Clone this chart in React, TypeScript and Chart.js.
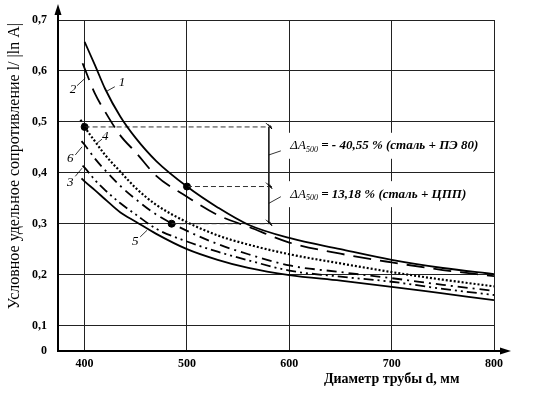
import React, { useEffect, useRef } from "react";
import { Chart, registerables } from "chart.js";

Chart.register(...registerables);

// ---- data ----
const D = [400, 410, 420, 435, 450, 470, 500, 530, 560, 600, 650, 700, 750, 800];
const curve1 = [0.657, 0.612, 0.565, 0.51, 0.468, 0.423, 0.373, 0.332, 0.298, 0.272, 0.25, 0.229, 0.213, 0.201];
const curve2 = [0.605, 0.556, 0.52, 0.473, 0.44, 0.394, 0.353, 0.317, 0.294, 0.263, 0.241, 0.224, 0.209, 0.197];
const curve3 = [0.41, 0.386, 0.366, 0.34, 0.318, 0.29, 0.265, 0.245, 0.228, 0.208, 0.196, 0.186, 0.172, 0.16];
const curve4 = [0.49, 0.462, 0.435, 0.402, 0.37, 0.337, 0.303, 0.277, 0.259, 0.24, 0.222, 0.205, 0.19, 0.177];
const curve5 = [0.383, 0.366, 0.348, 0.322, 0.304, 0.28, 0.25, 0.229, 0.213, 0.199, 0.188, 0.176, 0.163, 0.15];
const curve6 = [0.455, 0.428, 0.405, 0.374, 0.348, 0.318, 0.286, 0.26, 0.24, 0.218, 0.205, 0.193, 0.18, 0.168];
// curves begin slightly left of d = 400 (order: 1..6)
const leadD = [400, 398, 398, 396, 397, 397];
const leadV = [0.657, 0.615, 0.414, 0.504, 0.389, 0.462];

// marked points and the dimension annotation
const markD = [400, 500, 485];
const markV = [0.49, 0.373, 0.3];
const refEndD = 583;
const dimD = 580;

const xTicks = [400, 500, 600, 700, 800];
const yTicks = [0.05, 0.1, 0.2, 0.3, 0.4, 0.5, 0.6, 0.7];

const curveNames = ["1", "2", "3", "4", "5", "6"];
// label anchor (data coords) and leader line from -> to
const labelD = [436.5, 388.7, 386, 420.2, 449.5, 386];
const labelV = [0.577, 0.563, 0.381, 0.471, 0.265, 0.428];
const leadFromD = [429.5, 392.6, 390.9, 417, 454.3, 390.9];
const leadFromV = [0.569, 0.571, 0.393, 0.466, 0.274, 0.435];
const leadToD = [421.5, 400.7, 397.5, 412.1, 461, 397.5];
const leadToV = [0.56, 0.586, 0.409, 0.458, 0.287, 0.451];

const deltaRest = ["- 40,55 % (сталь + ПЭ 80)", "13,18 % (сталь + ЦПП)"];
const deltaV = [0.453, 0.358];
const deltaLeaderV = [0.435, 0.443, 0.34, 0.353];

const yTitle = "Условное удельное сопротивление l/ |ln A|";
const xTitle = "Диаметр трубы d, мм";

const FONT = "'Liberation Serif', 'Times New Roman', serif";

function series(i: number, vals: number[]) {
  const pts = D.map((d, k) => ({ x: d, y: vals[k] }));
  if (leadD[i] < D[0]) pts.unshift({ x: leadD[i], y: leadV[i] });
  return pts;
}

const annotPlugin = {
  id: "annot",
  afterDatasetsDraw(chart: any) {
    const { ctx, scales } = chart;
    const x = scales.x, y = scales.y;
    const px = (d: number) => x.getPixelForValue(d);
    const py = (v: number) => y.getPixelForValue(v);
    ctx.save();
    // curve numbers with leaders
    ctx.fillStyle = "#000";
    ctx.strokeStyle = "#000";
    ctx.lineWidth = 0.8;
    ctx.font = `italic 13px ${FONT}`;
    ctx.textAlign = "center";
    ctx.textBaseline = "middle";
    for (let i = 0; i < curveNames.length; i++) {
      ctx.fillText(curveNames[i], px(labelD[i]), py(labelV[i]));
      ctx.beginPath();
      ctx.moveTo(px(leadFromD[i]), py(leadFromV[i]));
      ctx.lineTo(px(leadToD[i]), py(leadToV[i]));
      ctx.stroke();
    }
    // dimension arrow ticks
    ctx.lineWidth = 0.8;
    for (const v of markV) {
      const cx = px(dimD), cy = py(v);
      ctx.beginPath();
      ctx.moveTo(cx - 3, cy - 4);
      ctx.lineTo(cx + 3, cy + 2);
      ctx.moveTo(cx - 1, cy - 3);
      ctx.lineTo(cx + 3, cy + 2);
      ctx.lineTo(cx + 1, cy - 2);
      ctx.stroke();
    }
    // leaders from dimension line to texts
    for (let k = 0; k < 2; k++) {
      ctx.beginPath();
      ctx.moveTo(px(dimD), py(deltaLeaderV[k * 2]));
      ctx.lineTo(px(dimD) + 12, py(deltaLeaderV[k * 2 + 1]));
      ctx.stroke();
    }
    // delta texts
    ctx.textAlign = "left";
    ctx.textBaseline = "middle";
    for (let k = 0; k < 2; k++) {
      const x0 = px(601);
      const cy = py(deltaV[k]);
      const fA = `italic 13px ${FONT}`;
      const fS = `italic 8px ${FONT}`;
      const fB = `italic bold 13px ${FONT}`;
      ctx.font = fA;
      const wA = ctx.measureText("ΔA").width;
      ctx.font = fS;
      const wS = ctx.measureText("500").width;
      ctx.font = fB;
      const rest = " = " + deltaRest[k];
      const wR = ctx.measureText(rest).width;
      ctx.fillStyle = "#fff";
      ctx.fillRect(x0 - 5, cy - 13, wA + wS + wR + 8, 26);
      ctx.fillStyle = "#000";
      ctx.font = fA;
      ctx.fillText("ΔA", x0, cy);
      ctx.font = fS;
      ctx.fillText("500", x0 + wA, cy + 4);
      ctx.font = fB;
      ctx.fillText(rest, x0 + wA + wS, cy);
    }
    ctx.restore();
  },
  afterDraw(chart: any) {
    const { ctx, chartArea, scales } = chart;
    const { left, right, bottom } = chartArea;
    ctx.save();
    ctx.strokeStyle = "#000";
    ctx.fillStyle = "#000";
    ctx.lineWidth = 2;
    // y axis arrow
    ctx.beginPath();
    ctx.moveTo(left, chartArea.top);
    ctx.lineTo(left, 12);
    ctx.stroke();
    ctx.beginPath();
    ctx.moveTo(left, 4);
    ctx.lineTo(left - 3.5, 15);
    ctx.lineTo(left + 3.5, 15);
    ctx.closePath();
    ctx.fill();
    // x axis arrow
    ctx.beginPath();
    ctx.moveTo(right, bottom);
    ctx.lineTo(right + 10, bottom);
    ctx.stroke();
    ctx.beginPath();
    ctx.moveTo(right + 17, bottom);
    ctx.lineTo(right + 6, bottom - 3.5);
    ctx.lineTo(right + 6, bottom + 3.5);
    ctx.closePath();
    ctx.fill();
    // axis titles
    ctx.font = `bold 14px ${FONT}`;
    ctx.textAlign = "center";
    ctx.textBaseline = "middle";
    ctx.fillText(xTitle, scales.x.getPixelForValue(700), bottom + 28);
    ctx.save();
    ctx.translate(left - 43, scales.y.getPixelForValue(0.413));
    ctx.rotate(-Math.PI / 2);
    ctx.font = `16px ${FONT}`;
    ctx.fillText(yTitle, 0, 0);
    ctx.restore();
    ctx.restore();
  },
};

export default function App() {
  const ref = useRef<HTMLCanvasElement>(null);
  useEffect(() => {
    if (!ref.current) return;
    const curves = [curve1, curve2, curve3, curve4, curve5, curve6];
    const dashes = [[], [18, 9], [10, 4, 2, 4, 2, 4], [2, 2], [], [10, 5, 2, 5]];
    const widths = [1.8, 1.8, 1.8, 2.2, 1.8, 1.8];
    const datasets: any[] = curves.map((vals, i) => ({
      label: curveNames[i],
      data: series(i, vals),
      borderColor: "#000",
      borderWidth: widths[i],
      borderDash: dashes[i],
      pointRadius: 0,
      cubicInterpolationMode: "monotone",
      fill: false,
    }));
    markD.forEach((d, k) => {
      datasets.push({
        label: "ref" + k,
        data: [{ x: d, y: markV[k] }, { x: refEndD, y: markV[k] }],
        borderColor: "#333",
        borderWidth: 1,
        borderDash: [5, 3],
        pointRadius: 0,
        fill: false,
      });
    });
    datasets.push({
      label: "dim",
      data: [{ x: dimD, y: markV[0] }, { x: dimD, y: markV[2] }],
      borderColor: "#222",
      borderWidth: 1,
      pointRadius: 0,
      fill: false,
    });
    datasets.push({
      label: "marks",
      data: markD.map((d, k) => ({ x: d, y: markV[k] })),
      showLine: false,
      pointRadius: 3.5,
      pointBackgroundColor: "#000",
      pointBorderColor: "#000",
      borderColor: "#000",
    });

    const chart = new Chart(ref.current, {
      type: "line",
      data: { datasets },
      plugins: [annotPlugin],
      options: {
        responsive: false,
        animation: false,
        layout: { padding: { top: 20, right: 43, left: 0, bottom: 0 } },
        plugins: { legend: { display: false }, tooltip: { enabled: false }, title: { display: false } },
        scales: {
          x: {
            type: "linear",
            min: 374,
            max: 800,
            afterBuildTicks: (s: any) => {
              s.ticks = xTicks.map((v) => ({ value: v }));
            },
            afterFit: (s: any) => {
              s.height = 42;
            },
            grid: { color: "#222", lineWidth: 1, drawTicks: false },
            border: { display: true, color: "#000", width: 2 },
            ticks: {
              padding: 6,
              color: "#000",
              font: { family: FONT, size: 12, weight: "bold" },
              callback: (v: any) => String(v),
            },
          },
          y: {
            type: "linear",
            min: 0.05,
            max: 0.7,
            afterBuildTicks: (s: any) => {
              s.ticks = yTicks.map((v) => ({ value: v }));
            },
            afterFit: (s: any) => {
              s.width = 58;
            },
            grid: {
              color: (c: any) => (c.tick && c.tick.value < 0.07 ? "rgba(0,0,0,0)" : "#222"),
              lineWidth: 1,
              drawTicks: false,
            },
            border: { display: true, color: "#000", width: 2 },
            ticks: {
              padding: 11,
              color: "#000",
              font: { family: FONT, size: 12, weight: "bold" },
              callback: (v: any) => (Number(v) < 0.07 ? "0" : Number(v).toFixed(1).replace(".", ",")),
            },
          },
        },
      },
    });
    return () => chart.destroy();
  }, []);
  return (
    <div style={{ position: "fixed", left: 0, top: 0, width: 537, height: 393, background: "#fff" }}>
      <canvas ref={ref} width={537} height={393} />
    </div>
  );
}
